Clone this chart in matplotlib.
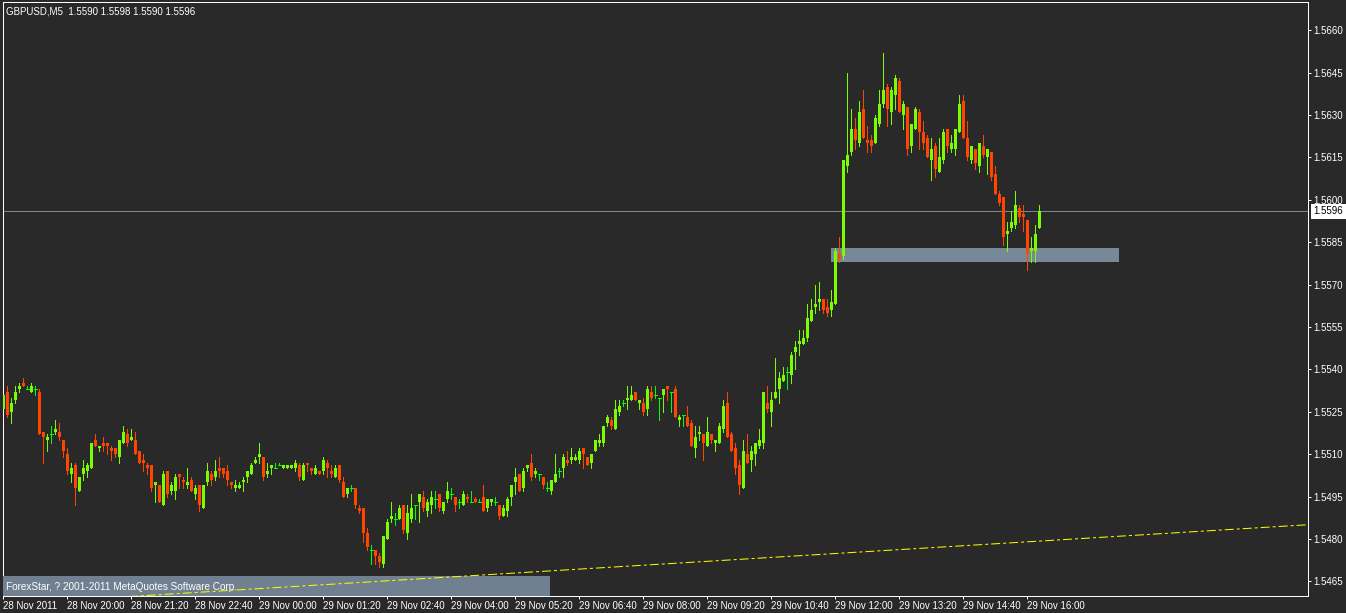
import matplotlib
matplotlib.use("Agg")
import matplotlib.pyplot as plt
from matplotlib.patches import Rectangle
import matplotlib.transforms as mtransforms
import numpy as np

# GBPUSD M5, 28 Nov 2011 18:40 -> 29 Nov 2011 16:15, one entry per 5-minute bar
symbol = "GBPUSD,M5"

opens = [
    1.5526, 1.5532, 1.5525, 1.5529, 1.5533, 1.5535, 1.5533, 1.5532, 1.5533, 1.5532,
    1.5518, 1.5515, 1.5517, 1.5518, 1.5518, 1.5515, 1.5510, 1.5503, 1.5506, 1.5497,
    1.5503, 1.5504, 1.5505, 1.5515, 1.5512, 1.5514, 1.5514, 1.5512, 1.5512, 1.5509,
    1.5514, 1.5517, 1.5515, 1.5515, 1.5511, 1.5508, 1.5506, 1.5506, 1.5499, 1.5499,
    1.5492, 1.5504, 1.5497, 1.5497, 1.5503, 1.5501, 1.5499, 1.5501, 1.5496, 1.5499,
    1.5491, 1.5500, 1.5503, 1.5502, 1.5505, 1.5505, 1.5504, 1.5500, 1.5498, 1.5498,
    1.5500, 1.5502, 1.5503, 1.5507, 1.5509, 1.5509, 1.5503, 1.5505, 1.5505, 1.5506,
    1.5505, 1.5505, 1.5505, 1.5505, 1.5506, 1.5501, 1.5507, 1.5505, 1.5503, 1.5504,
    1.5504, 1.5507, 1.5504, 1.5502, 1.5506, 1.5500, 1.5496, 1.5498, 1.5498, 1.5491,
    1.5491, 1.5482, 1.5476, 1.5476, 1.5474, 1.5471, 1.5480, 1.5487, 1.5487, 1.5487,
    1.5492, 1.5482, 1.5487, 1.5492, 1.5493, 1.5495, 1.5490, 1.5492, 1.5494, 1.5496,
    1.5490, 1.5494, 1.5496, 1.5495, 1.5493, 1.5492, 1.5495, 1.5493, 1.5494, 1.5493,
    1.5495, 1.5491, 1.5493, 1.5493, 1.5492, 1.5488, 1.5490, 1.5495, 1.5500, 1.5503,
    1.5498, 1.5505, 1.5507, 1.5503, 1.5503, 1.5502, 1.5498, 1.5497, 1.5500, 1.5504,
    1.5505, 1.5508, 1.5508, 1.5508, 1.5508, 1.5512, 1.5509, 1.5507, 1.5511, 1.5514,
    1.5514, 1.5521, 1.5522, 1.5519, 1.5525, 1.5528, 1.5529, 1.5529, 1.5532, 1.5528,
    1.5528, 1.5526, 1.5532, 1.5531, 1.5530, 1.5531, 1.5534, 1.5532, 1.5533, 1.5522,
    1.5524, 1.5523, 1.5521, 1.5512, 1.5517, 1.5517, 1.5513, 1.5517, 1.5514, 1.5514,
    1.5519, 1.5528, 1.5517, 1.5512, 1.5506, 1.5498, 1.5510, 1.5508, 1.5510, 1.5513,
    1.5514, 1.5528, 1.5525, 1.5530, 1.5533, 1.5536, 1.5539, 1.5538, 1.5546, 1.5549,
    1.5549, 1.5551, 1.5557, 1.5562, 1.5564, 1.5565, 1.5562, 1.5561, 1.5563, 1.5581,
    1.5580, 1.5612, 1.5617, 1.5625, 1.5620, 1.5632, 1.5621, 1.5621, 1.5620, 1.5627,
    1.5634, 1.5640, 1.5631, 1.5637, 1.5642, 1.5630, 1.5633, 1.5619, 1.5625, 1.5631,
    1.5624, 1.5622, 1.5614, 1.5619, 1.5610, 1.5614, 1.5625, 1.5618, 1.5618, 1.5624,
    1.5635, 1.5622, 1.5614, 1.5618, 1.5612, 1.5619, 1.5615, 1.5617, 1.5609, 1.5602,
    1.5601, 1.5588, 1.5590, 1.5591, 1.5597, 1.5595, 1.5593, 1.5582, 1.5582, 1.5590,
]
highs = [
    1.5536, 1.5534, 1.5530, 1.5534, 1.5535, 1.5537, 1.5534, 1.5535, 1.5534, 1.5533,
    1.5518, 1.5517, 1.5520, 1.5522, 1.5521, 1.5515, 1.5512, 1.5507, 1.5507, 1.5502,
    1.5508, 1.5507, 1.5514, 1.5517, 1.5513, 1.5516, 1.5514, 1.5513, 1.5512, 1.5515,
    1.5520, 1.5519, 1.5519, 1.5518, 1.5511, 1.5510, 1.5507, 1.5506, 1.5500, 1.5499,
    1.5504, 1.5504, 1.5500, 1.5503, 1.5503, 1.5502, 1.5505, 1.5502, 1.5499, 1.5499,
    1.5499, 1.5507, 1.5504, 1.5508, 1.5509, 1.5505, 1.5506, 1.5500, 1.5501, 1.5500,
    1.5502, 1.5504, 1.5507, 1.5509, 1.5514, 1.5509, 1.5507, 1.5506, 1.5507, 1.5507,
    1.5506, 1.5506, 1.5506, 1.5508, 1.5507, 1.5507, 1.5507, 1.5505, 1.5506, 1.5504,
    1.5509, 1.5508, 1.5506, 1.5506, 1.5506, 1.5502, 1.5498, 1.5499, 1.5498, 1.5492,
    1.5491, 1.5484, 1.5478, 1.5476, 1.5475, 1.5481, 1.5487, 1.5493, 1.5489, 1.5492,
    1.5492, 1.5492, 1.5496, 1.5492, 1.5496, 1.5497, 1.5494, 1.5497, 1.5497, 1.5496,
    1.5493, 1.5500, 1.5498, 1.5495, 1.5494, 1.5497, 1.5496, 1.5497, 1.5495, 1.5494,
    1.5499, 1.5494, 1.5494, 1.5495, 1.5492, 1.5492, 1.5495, 1.5499, 1.5505, 1.5503,
    1.5505, 1.5506, 1.5510, 1.5505, 1.5503, 1.5502, 1.5500, 1.5501, 1.5510, 1.5505,
    1.5510, 1.5511, 1.5512, 1.5510, 1.5512, 1.5512, 1.5509, 1.5510, 1.5515, 1.5517,
    1.5520, 1.5524, 1.5523, 1.5529, 1.5529, 1.5529, 1.5534, 1.5534, 1.5532, 1.5529,
    1.5530, 1.5534, 1.5534, 1.5534, 1.5530, 1.5533, 1.5534, 1.5532, 1.5534, 1.5524,
    1.5524, 1.5527, 1.5522, 1.5520, 1.5520, 1.5517, 1.5523, 1.5517, 1.5515, 1.5521,
    1.5529, 1.5532, 1.5518, 1.5514, 1.5508, 1.5515, 1.5517, 1.5513, 1.5514, 1.5519,
    1.5532, 1.5534, 1.5532, 1.5544, 1.5539, 1.5541, 1.5541, 1.5546, 1.5550, 1.5554,
    1.5554, 1.5563, 1.5565, 1.5570, 1.5571, 1.5565, 1.5565, 1.5568, 1.5583, 1.5587,
    1.5614, 1.5645, 1.5632, 1.5629, 1.5635, 1.5639, 1.5626, 1.5623, 1.5630, 1.5639,
    1.5652, 1.5641, 1.5640, 1.5644, 1.5643, 1.5635, 1.5633, 1.5627, 1.5633, 1.5632,
    1.5628, 1.5623, 1.5622, 1.5620, 1.5622, 1.5625, 1.5625, 1.5623, 1.5625, 1.5637,
    1.5637, 1.5628, 1.5619, 1.5618, 1.5620, 1.5623, 1.5618, 1.5617, 1.5612, 1.5603,
    1.5601, 1.5592, 1.5596, 1.5603, 1.5598, 1.5598, 1.5593, 1.5587, 1.5591, 1.5598,
]
lows = [
    1.5526, 1.5523, 1.5521, 1.5528, 1.5532, 1.5534, 1.5533, 1.5532, 1.5531, 1.5517,
    1.5507, 1.5511, 1.5514, 1.5517, 1.5515, 1.5509, 1.5503, 1.5500, 1.5492, 1.5497,
    1.5501, 1.5502, 1.5505, 1.5513, 1.5511, 1.5511, 1.5510, 1.5508, 1.5509, 1.5507,
    1.5514, 1.5513, 1.5515, 1.5510, 1.5507, 1.5504, 1.5503, 1.5497, 1.5493, 1.5493,
    1.5492, 1.5495, 1.5496, 1.5494, 1.5498, 1.5498, 1.5498, 1.5497, 1.5494, 1.5490,
    1.5491, 1.5499, 1.5499, 1.5501, 1.5502, 1.5502, 1.5499, 1.5498, 1.5497, 1.5498,
    1.5497, 1.5500, 1.5503, 1.5507, 1.5507, 1.5501, 1.5502, 1.5503, 1.5505, 1.5506,
    1.5505, 1.5505, 1.5505, 1.5504, 1.5501, 1.5501, 1.5504, 1.5503, 1.5503, 1.5503,
    1.5503, 1.5502, 1.5502, 1.5502, 1.5500, 1.5495, 1.5495, 1.5497, 1.5491, 1.5489,
    1.5479, 1.5476, 1.5471, 1.5471, 1.5470, 1.5470, 1.5480, 1.5486, 1.5485, 1.5487,
    1.5482, 1.5480, 1.5486, 1.5487, 1.5486, 1.5490, 1.5488, 1.5489, 1.5491, 1.5490,
    1.5489, 1.5493, 1.5494, 1.5490, 1.5491, 1.5492, 1.5493, 1.5493, 1.5493, 1.5493,
    1.5490, 1.5490, 1.5492, 1.5492, 1.5487, 1.5488, 1.5488, 1.5492, 1.5496, 1.5497,
    1.5497, 1.5504, 1.5501, 1.5502, 1.5501, 1.5498, 1.5497, 1.5496, 1.5500, 1.5502,
    1.5502, 1.5506, 1.5507, 1.5508, 1.5507, 1.5505, 1.5506, 1.5505, 1.5511, 1.5513,
    1.5513, 1.5520, 1.5519, 1.5519, 1.5524, 1.5527, 1.5526, 1.5529, 1.5529, 1.5526,
    1.5524, 1.5524, 1.5529, 1.5530, 1.5522, 1.5525, 1.5529, 1.5525, 1.5523, 1.5520,
    1.5520, 1.5520, 1.5513, 1.5509, 1.5515, 1.5508, 1.5513, 1.5514, 1.5511, 1.5514,
    1.5518, 1.5516, 1.5511, 1.5503, 1.5496, 1.5498, 1.5507, 1.5504, 1.5506, 1.5512,
    1.5512, 1.5525, 1.5520, 1.5530, 1.5528, 1.5536, 1.5533, 1.5535, 1.5540, 1.5545,
    1.5549, 1.5550, 1.5557, 1.5560, 1.5561, 1.5560, 1.5559, 1.5559, 1.5563, 1.5578,
    1.5579, 1.5610, 1.5616, 1.5618, 1.5619, 1.5622, 1.5617, 1.5617, 1.5620, 1.5626,
    1.5633, 1.5626, 1.5627, 1.5632, 1.5631, 1.5625, 1.5616, 1.5617, 1.5625, 1.5618,
    1.5618, 1.5615, 1.5607, 1.5608, 1.5610, 1.5613, 1.5617, 1.5617, 1.5616, 1.5624,
    1.5622, 1.5614, 1.5613, 1.5611, 1.5610, 1.5615, 1.5609, 1.5607, 1.5602, 1.5598,
    1.5584, 1.5582, 1.5589, 1.5590, 1.5592, 1.5589, 1.5575, 1.5578, 1.5578, 1.5590,
]
closes = [
    1.5531, 1.5524, 1.5528, 1.5532, 1.5534, 1.5534, 1.5533, 1.5534, 1.5533, 1.5517,
    1.5516, 1.5516, 1.5517, 1.5519, 1.5516, 1.5511, 1.5504, 1.5505, 1.5498, 1.5502,
    1.5505, 1.5506, 1.5514, 1.5513, 1.5513, 1.5513, 1.5513, 1.5511, 1.5510, 1.5515,
    1.5518, 1.5514, 1.5516, 1.5510, 1.5507, 1.5507, 1.5505, 1.5498, 1.5500, 1.5493,
    1.5503, 1.5496, 1.5499, 1.5502, 1.5502, 1.5500, 1.5500, 1.5497, 1.5498, 1.5492,
    1.5499, 1.5504, 1.5501, 1.5504, 1.5504, 1.5503, 1.5501, 1.5499, 1.5499, 1.5499,
    1.5501, 1.5504, 1.5506, 1.5508, 1.5510, 1.5502, 1.5504, 1.5506, 1.5505, 1.5506,
    1.5506, 1.5506, 1.5506, 1.5507, 1.5502, 1.5506, 1.5506, 1.5504, 1.5505, 1.5503,
    1.5508, 1.5505, 1.5503, 1.5505, 1.5501, 1.5495, 1.5498, 1.5498, 1.5492, 1.5490,
    1.5482, 1.5477, 1.5476, 1.5474, 1.5472, 1.5481, 1.5486, 1.5488, 1.5487, 1.5491,
    1.5483, 1.5489, 1.5491, 1.5492, 1.5496, 1.5491, 1.5493, 1.5495, 1.5494, 1.5491,
    1.5493, 1.5497, 1.5496, 1.5492, 1.5493, 1.5496, 1.5494, 1.5493, 1.5493, 1.5493,
    1.5490, 1.5494, 1.5494, 1.5493, 1.5488, 1.5491, 1.5494, 1.5499, 1.5502, 1.5497,
    1.5504, 1.5506, 1.5502, 1.5504, 1.5503, 1.5499, 1.5498, 1.5501, 1.5503, 1.5504,
    1.5509, 1.5507, 1.5509, 1.5509, 1.5511, 1.5510, 1.5506, 1.5510, 1.5515, 1.5515,
    1.5520, 1.5523, 1.5520, 1.5526, 1.5527, 1.5528, 1.5530, 1.5531, 1.5529, 1.5529,
    1.5525, 1.5533, 1.5530, 1.5531, 1.5530, 1.5533, 1.5533, 1.5532, 1.5523, 1.5523,
    1.5524, 1.5520, 1.5513, 1.5516, 1.5518, 1.5514, 1.5518, 1.5515, 1.5515, 1.5520,
    1.5527, 1.5516, 1.5511, 1.5505, 1.5499, 1.5511, 1.5507, 1.5511, 1.5514, 1.5515,
    1.5532, 1.5526, 1.5529, 1.5532, 1.5537, 1.5538, 1.5539, 1.5545, 1.5548, 1.5550,
    1.5551, 1.5558, 1.5561, 1.5563, 1.5565, 1.5561, 1.5560, 1.5564, 1.5582, 1.5579,
    1.5614, 1.5616, 1.5625, 1.5621, 1.5631, 1.5622, 1.5620, 1.5619, 1.5629, 1.5634,
    1.5639, 1.5632, 1.5639, 1.5643, 1.5631, 1.5634, 1.5618, 1.5627, 1.5632, 1.5624,
    1.5620, 1.5615, 1.5618, 1.5611, 1.5615, 1.5624, 1.5619, 1.5620, 1.5625, 1.5634,
    1.5622, 1.5615, 1.5619, 1.5613, 1.5620, 1.5616, 1.5618, 1.5608, 1.5602, 1.5599,
    1.5587, 1.5589, 1.5592, 1.5598, 1.5594, 1.5594, 1.5581, 1.5583, 1.5588, 1.5596,
]

# time scale: one label every 16 bars (80 minutes)
time_labels = ["28 Nov 2011", "28 Nov 20:00", "28 Nov 21:20", "28 Nov 22:40",
               "29 Nov 00:00", "29 Nov 01:20", "29 Nov 02:40", "29 Nov 04:00",
               "29 Nov 05:20", "29 Nov 06:40", "29 Nov 08:00", "29 Nov 09:20",
               "29 Nov 10:40", "29 Nov 12:00", "29 Nov 13:20", "29 Nov 14:40",
               "29 Nov 16:00"]
bars_per_label = 16
price_ticks = [1.5465, 1.5480, 1.5495, 1.5510, 1.5525, 1.5540, 1.5555,
               1.5570, 1.5585, 1.5600, 1.5615, 1.5630, 1.5645, 1.5660]
price_range = (1.54598, 1.56700)
bars_shown = 326.25

bid = 1.5596
# support zone drawn on the chart (bar index range, price range)
zone_bars = (207, 279)
zone_prices = (1.5578, 1.5583)
# yellow trend line anchors (bar index, price)
trend_bars = [36, 326]
trend_prices = [1.5460, 1.5485]

copyright_text = "ForexStar, ? 2001-2011 MetaQuotes Software Corp."

BG = "#292929"
UP = "#7CFC00"
DOWN = "#FF4500"
DOJI = "#00FF00"
GRID = "#778899"
FONT = "Liberation Sans"

W, H = 1346, 613
fig = plt.figure(figsize=(W / 100, H / 100), dpi=100, facecolor=BG)
# plot frame in pixels: x 2.7..1308, y 2..596
ax = fig.add_axes([2.7 / W, 1 - 596 / H, (1308 - 2.7) / W, (596 - 2) / H], facecolor=BG)
ax.set_xlim(-0.075, bars_shown)
ax.set_ylim(*price_range)

o = np.array(opens)
h = np.array(highs)
l = np.array(lows)
c = np.array(closes)
x = np.arange(len(o))
up = c > o
down = c < o
flat = c == o

px = 0.72  # one pixel in points

ax.add_patch(Rectangle((zone_bars[0], zone_prices[0]), zone_bars[1] - zone_bars[0],
                       zone_prices[1] - zone_prices[0], fc=GRID, ec="none", zorder=1))
ax.axhline(bid, color=GRID, lw=px, antialiased=False, zorder=1.5)

ax.vlines(x[up], l[up], h[up], colors=UP, lw=px, antialiased=False, zorder=2)
ax.vlines(x[down], l[down], h[down], colors=DOWN, lw=px, antialiased=False, zorder=2)
ax.vlines(x[flat], l[flat], h[flat], colors=DOJI, lw=px, antialiased=False, zorder=2)
ax.bar(x[up], (c - o)[up], bottom=o[up], width=0.75, color=UP, linewidth=0,
       antialiased=False, zorder=3)
ax.bar(x[down], (o - c)[down], bottom=c[down], width=0.75, color=DOWN, linewidth=0,
       antialiased=False, zorder=3)
ax.hlines(o[flat], x[flat] - 0.375, x[flat] + 0.375, colors=DOJI, lw=px,
          antialiased=False, zorder=3)

# copyright strip at the bottom left, in pixels of the plot frame
aw, ah = 1308 - 2.7, 596 - 2
ax.add_patch(Rectangle((0, 0), (550 - 2.7) / aw, 20 / ah, transform=ax.transAxes,
                       fc="#708090", ec="none", zorder=4))
ax.text(3.5 / aw, 9 / ah, copyright_text, transform=ax.transAxes, color="white",
        fontsize=7.2, family=FONT, va="center", ha="left", zorder=5)

slope = (trend_prices[1] - trend_prices[0]) / (trend_bars[1] - trend_bars[0])
tx = np.array([0, bars_shown])
ax.plot(tx, trend_prices[0] + slope * (tx - trend_bars[0]), color="yellow", lw=px,
        linestyle=(0, (9, 3, 3, 3)), zorder=6)

for s in ax.spines.values():
    s.set_color("white")
    s.set_linewidth(px)

ax.yaxis.tick_right()
ax.set_yticks(price_ticks)
ax.set_yticklabels([f"{p:.4f}" for p in price_ticks])
ax.set_xticks(np.arange(len(time_labels)) * bars_per_label)
ax.set_xticklabels(time_labels)
ax.tick_params(axis="both", colors="white", direction="out", length=2.3, width=px,
               labelsize=7)
ax.tick_params(axis="y", pad=1.5)
ax.tick_params(axis="x", pad=1.5)
for t in ax.get_xticklabels():
    t.set_ha("left")
    t.set_family(FONT)
for t in ax.get_yticklabels():
    t.set_family(FONT)

blend = mtransforms.blended_transform_factory(ax.transAxes, ax.transData)
ax.text(1 + 5.5 / aw, bid, f"{bid:.4f}", transform=blend, color="black", fontsize=7,
        family=FONT, va="center", ha="left", zorder=7, clip_on=False,
        bbox=dict(boxstyle="square,pad=0.25", fc="white", ec="none"))

fig.text(6.5 / W, 1 - 11 / H,
         f"{symbol}  {opens[-1]:.4f} {highs[-1]:.4f} {lows[-1]:.4f} {closes[-1]:.4f}",
         color="white", fontsize=7, family=FONT, va="center", ha="left")

fig.savefig("out.png", dpi=100, facecolor=BG)
